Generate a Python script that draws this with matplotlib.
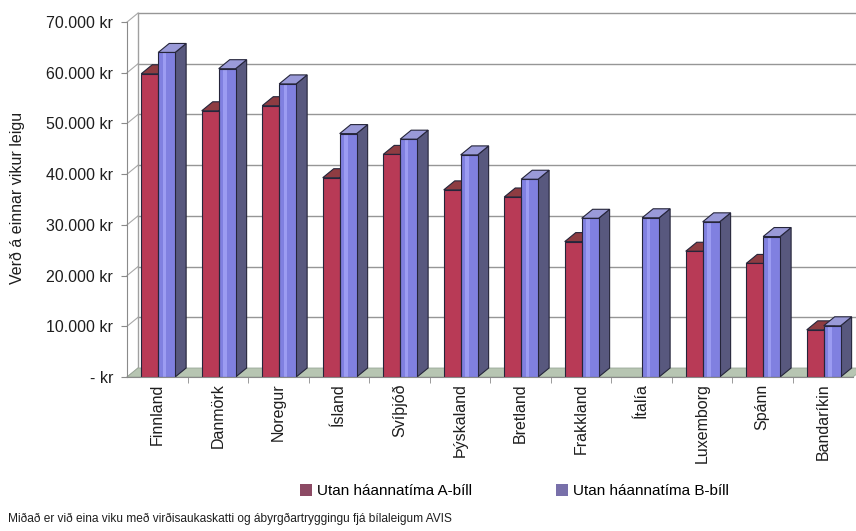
import numpy as np
import matplotlib.pyplot as plt
from matplotlib.patches import Patch

plt.rcParams['font.family'] = ['Liberation Sans', 'DejaVu Sans']

countries = ['Finnland', 'Danmörk', 'Noregur', 'Ísland', 'Svíþjóð', 'Þýskaland',
             'Bretland', 'Frakkland', 'Ítalía', 'Luxemborg', 'Spánn', 'Bandaríkin']
bill_a = [59800, 52500, 53500, 39300, 43900, 36900, 35500, 26700, np.nan, 24800, 22400, 9300]
bill_b = [64000, 60800, 57800, 48000, 46900, 43800, 39000, 31300, 31400, 30600, 27700, 10100]
series_names = ['Utan háannatíma A-bíll', 'Utan háannatíma B-bíll']
yticks = np.arange(0, 70001, 10000)
ytick_labels = ['- kr'] + [f'{v:,} kr'.replace(',', '.') for v in yticks[1:]]

# depth of the fake 3d box, in data units
DX = 0.182
DY = 1775
EDGE = '#25253a'
W = 0.28

fig = plt.figure(figsize=(8.56, 5.31), dpi=100)
ax = fig.add_axes([0.1484, 0.2900, 0.8481, 0.6685])
ax.set_xlim(-0.5, 11.5)
ax.set_ylim(0, 70000)

# back wall, side wall and floor
for v in yticks[1:]:
    ax.plot([-0.5 + DX, 11.5 + DX], [v + DY, v + DY], color='#969696', lw=1, zorder=0, clip_on=False)
for v in yticks:
    ax.plot([-0.5, -0.5 + DX], [v, v + DY], color='#a8a8a8', lw=0.8, zorder=0, clip_on=False)
ax.plot([-0.5 + DX] * 2, [DY, 70000 + DY], color='#a0a0a0', lw=1, zorder=0, clip_on=False)
ax.fill([-0.5, 11.5, 11.5 + DX, -0.5 + DX], [0, 0, DY, DY], color='#b7c5b2', ec='#9aa898',
        lw=0.6, zorder=1, clip_on=False)


def bar3d(x, h, front, side, top, stripe=None):
    if np.isnan(h):
        return
    x0, x1 = x - W / 2, x + W / 2
    ax.fill([x1, x1 + DX, x1 + DX, x1], [0, DY, h + DY, h], color=side, ec=EDGE, lw=0.8,
            zorder=3, clip_on=False)
    ax.fill([x0, x1, x1 + DX, x0 + DX], [h, h, h + DY, h + DY], color=top, ec=EDGE, lw=0.8,
            zorder=3, clip_on=False)
    ax.bar(x, h, W, color=front, lw=0, zorder=4)
    if stripe:
        ax.bar(x - W * 0.12, h, W * 0.22, color=stripe, lw=0, zorder=4.1)
    ax.bar(x, h, W, fill=False, ec=EDGE, lw=0.8, zorder=4.2)


for i in range(len(countries)):
    bar3d(i - 0.125, bill_a[i], '#b83a56', '#7a2538', '#8e3c42')
    bar3d(i + 0.155, bill_b[i], '#8080e0', '#58587e', '#9a9ad8', stripe='#9c9cf2')

for s in ['top', 'right']:
    ax.spines[s].set_visible(False)
for s in ['left', 'bottom']:
    ax.spines[s].set_color('#8a8a8a')
    ax.spines[s].set_zorder(5)

ax.set_yticks(yticks)
ax.set_yticklabels(ytick_labels, fontsize=11.5, color='#1e1e1e')
ax.tick_params(axis='y', length=4, color='#8a8a8a', pad=6)
ax.set_xticks(range(len(countries)))
ax.set_xticklabels(countries, rotation=90, fontsize=11.5, color='#1e1e1e')
ax.tick_params(axis='x', which='major', length=0, pad=4.5)
ax.set_xticks(np.arange(0.5, 11.5, 1), minor=True)
ax.tick_params(axis='x', which='minor', length=4, color='#8a8a8a')

fig.text(17 / 856, 0.627, 'Verð á einnar vikur leigu', rotation=90, ha='center', va='center',
         fontsize=11.5, color='#1e1e1e')

handles = [Patch(fc='#8c4a64'), Patch(fc='#7870aa')]
fig.legend(handles, series_names, loc='center', bbox_to_anchor=(0.601, 0.0753), ncol=2,
           frameon=False, fontsize=11, handlelength=0.8, handleheight=0.8,
           handletextpad=0.3, columnspacing=5.5)

fig.text(8 / 856, 12 / 531,
         'Miðað er við eina viku með virðisaukaskatti og ábyrgðartryggingu fjá bílaleigum AVIS',
         ha='left', va='center', fontsize=8.6, color='#1e1e1e')

fig.savefig('out.png', dpi=100)
